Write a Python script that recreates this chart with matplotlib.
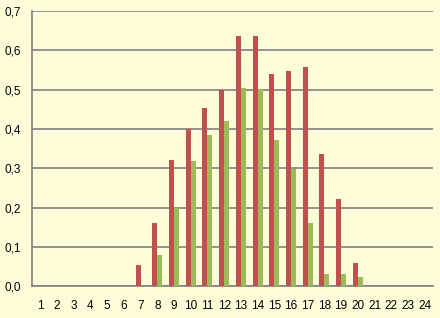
import numpy as np
import matplotlib
matplotlib.use("Agg")
import matplotlib.pyplot as plt

# data
hours = list(range(1, 25))
red_vals = [0, 0, 0, 0, 0, 0, 0.054, 0.162, 0.321, 0.400, 0.452, 0.500,
            0.637, 0.637, 0.540, 0.548, 0.558, 0.337, 0.222, 0.059, 0, 0, 0, 0]
green_vals = [0, 0, 0, 0, 0, 0, 0, 0.080, 0.198, 0.319, 0.385, 0.420,
              0.505, 0.502, 0.372, 0.298, 0.162, 0.031, 0.031, 0.024, 0, 0, 0, 0]
y_ticks = [0.0, 0.1, 0.2, 0.3, 0.4, 0.5, 0.6, 0.7]

bg = "#FFFDD9"
plt.rcParams['font.family'] = ['Liberation Sans', 'DejaVu Sans']

fig = plt.figure(figsize=(4.4, 3.18), dpi=100, facecolor=bg)
ax = fig.add_axes([32/440, 31.7/318, 401/440, 275.4/318])
ax.set_facecolor(bg)

x = np.array(hours)
w = 0.3
ax.bar(x - w/2, red_vals, width=w, color="#C0504D", zorder=3)
ax.bar(x + w/2, green_vals, width=w, color="#9BBB59", zorder=3)

ax.set_xlim(0.5, 24.5)
ax.set_ylim(0, 0.7)
ax.set_yticks(y_ticks)
ax.set_yticklabels([f"{v:.1f}".replace(".", ",") for v in y_ticks], fontsize=8.5)
ax.set_xticks(hours)
ax.set_xticklabels([str(h) for h in hours], fontsize=8.5)
ax.tick_params(axis='x', length=0, pad=10)
ax.tick_params(axis='y', length=0, pad=8)

ax.grid(axis='y', color="#808080", linewidth=1.2, zorder=1)
for s in ['top', 'right']:
    ax.spines[s].set_visible(False)
for s in ['left', 'bottom']:
    ax.spines[s].set_color("#808080")
    ax.spines[s].set_linewidth(1.2)

fig.savefig("out.png", dpi=100, facecolor=bg)
